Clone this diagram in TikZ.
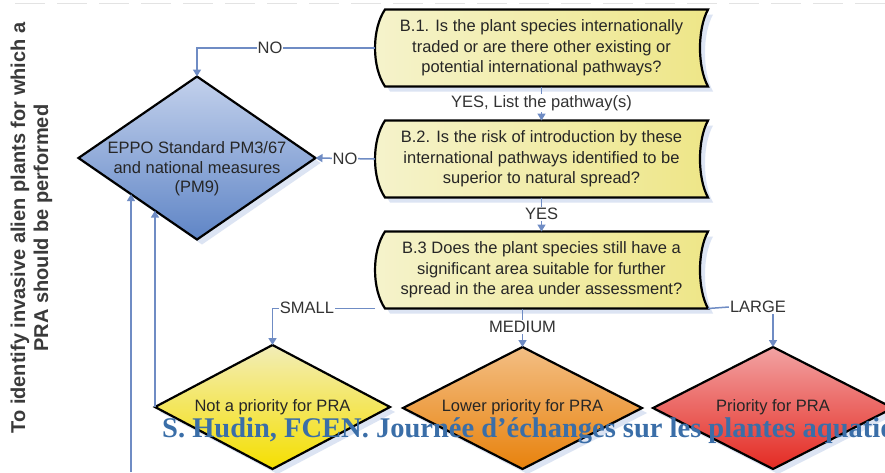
\documentclass[tikz,border=0pt]{standalone}
\usepackage{fontspec}
\setmainfont{Liberation Sans}
\newfontfamily\footfont{Liberation Serif}
\usetikzlibrary{shapes.geometric,arrows.meta,calc,shadows}
\definecolor{conncol}{HTML}{6F8CC4}
\definecolor{labelcol}{HTML}{333333}
\definecolor{textcol}{HTML}{262626}
\definecolor{titlecol}{HTML}{3A3A3A}
\definecolor{boxl}{HTML}{F5F3CC}
\definecolor{boxr}{HTML}{EEE688}
\definecolor{shadowcol}{HTML}{DCE4F3}
\definecolor{eppol}{HTML}{C3D1EC}
\definecolor{eppod}{HTML}{5F85C6}
\definecolor{yell}{HTML}{F2EDB8}
\definecolor{yeld}{HTML}{F5DF00}
\definecolor{orl}{HTML}{F3BE84}
\definecolor{ord}{HTML}{E8820C}
\definecolor{redl}{HTML}{F2A3A3}
\definecolor{redd}{HTML}{E42A22}
\definecolor{footcol}{HTML}{3A6EA8}
\tikzset{
  conn/.style={draw=conncol, line width=1.5pt},
  arr/.style={conn, -{Triangle[width=8pt,length=7pt]}},
  lbl/.style={fill=white, inner sep=1pt, text=labelcol, font=\fontsize{16.5}{18}\selectfont},
  boxtext/.style={align=center, font=\fontsize{16.5}{20.5}\selectfont, text=textcol,
    minimum width=333pt, minimum height=77pt, inner sep=0pt, outer sep=0pt},
  myshadow/.style={drop shadow={shadow xshift=5pt, shadow yshift=-5pt, fill=shadowcol, opacity=1}},
  boxshape/.style={draw=black, line width=2.2pt, left color=boxl, right color=boxr, myshadow},
  dia/.style={diamond, draw=black, line width=2.2pt, inner sep=0pt, outer sep=0pt,
    shading angle=45, myshadow},
  diatext/.style={align=center, font=\fontsize{16.5}{19.5}\selectfont, text=textcol, inner sep=0pt},
  dashline/.style={draw=gray!22, line width=1.2pt, dash pattern=on 30pt off 12pt},
}
\newcommand\sdbox[4]{%
  \path[boxshape] ({#2-156.5},{#3-38.5}) -- ({#2+166.5},{#3-38.5})
    .. controls ({#2+155.8},{#3-19}) and ({#2+155.8},{#3+19}) .. ({#2+166.5},{#3+38.5})
    -- ({#2-156.5},{#3+38.5})
    .. controls ({#2-169.8},{#3+19}) and ({#2-169.8},{#3-19}) .. cycle;
  \node[boxtext] (#1) at (#2,#3) {#4};
}
\begin{document}
\begin{tikzpicture}[x=1pt,y=-1pt]
\useasboundingbox (0,0) rectangle (885,472);
\clip (0,0) rectangle (885,472);
\fill[white] (0,0) rectangle (885,472);
\draw[dashline] (15,3.5) -- (885,3.5);

% title
\node[font=\bfseries\fontsize{20}{23}\selectfont, text=titlecol, rotate=90, align=center]
  (title) at (31.5,228) {To identify invasive alien plants for which a\\PRA should be performed};

% shapes (nodes first, so connectors can refer to them)
\node[dia, top color=eppol, bottom color=eppod, minimum width=237pt, minimum height=163pt] (eppo) at (197,158) {};
\node[dia, top color=yell, bottom color=yeld, minimum width=235pt, minimum height=124pt] (notpri) at (272.5,407) {};
\node[dia, top color=orl, bottom color=ord, minimum width=239pt, minimum height=122pt] (lowpri) at (522.5,408) {};
\node[dia, top color=redl, bottom color=redd, minimum width=240pt, minimum height=122pt] (pri) at (773,408) {};

\sdbox{b1}{541.5}{48}{B.1. Is the plant species internationally\\traded or are there other existing or\\potential international pathways?}
\sdbox{b2}{541.5}{159}{B.2. Is the risk of introduction by these\\international pathways identified to be\\superior to natural spread?}
\sdbox{b3}{541.5}{270}{B.3 Does the plant species still have a\\significant area suitable for further\\spread in the area under assessment?}

\node[diatext] (eppotext) at (197,169) {EPPO Standard PM3/67\\and national measures\\(PM9)};
\node[diatext] (notpritext) at (272.5,407) {Not a priority for PRA};
\node[diatext] (lowpritext) at (522.5,407) {Lower priority for PRA};
\node[diatext] (pritext) at (773,407) {Priority for PRA};

% connectors
\coordinate (bl) at (131,472);
\coordinate (e1) at ($(eppo.west)!0.443!(eppo.south)$);
\coordinate (e2) at ($(eppo.west)!0.646!(eppo.south)$);
\draw[arr] (bl) -- (bl |- e1);
\draw[arr] (notpri.west) -- (notpri.west |- e2);

\draw[arr] (b1.west) -| (eppo.north);
\draw[arr] (b2.west) -- (eppo.east);
\draw[arr] (b1.south) -- (b2.north);
\draw[arr] (b2.south) -- (b3.north);
\draw[arr] (b3.south west) -| (notpri.north);
\draw[arr] (b3.south -| lowpri.north) -- (lowpri.north);
\node[lbl, fill=none] (large) at (758,307) {LARGE};
\draw[conn] (b3.south east) -- (large.west);
\draw[arr] (large.south -| pri.north) -- (pri.north);

\node[lbl] (no1) at (270,48) {NO};
\node[lbl] (no2) at (345,158.5) {NO};
\node[lbl] (yes1) at (541.5,103) {YES, List the pathway(s)};
\node[lbl] (yes2) at (541.5,214) {YES};
\node[lbl] (small) at (307,308) {SMALL};
\node[lbl] (medium) at (522.5,327) {MEDIUM};

% footer
\node[anchor=base west, inner sep=0pt, text=footcol, font=\footfont\bfseries\fontsize{28.5}{30}\selectfont]
  (foot) at (162,437) {S. Hudin, FCEN. Journée d’échanges sur les plantes aquatiques};
\end{tikzpicture}
\end{document}
